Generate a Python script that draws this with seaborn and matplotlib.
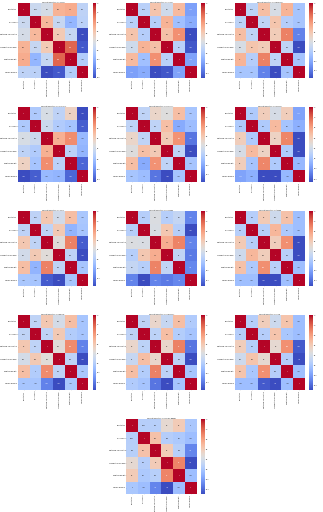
import numpy as np
import pandas as pd
import matplotlib
matplotlib.use("Agg")
import matplotlib.pyplot as plt
import seaborn as sns

variables = ["Precipitation", "Wind Speed", "Earth Skin Temperature",
             "Temperature Maximum", "Relative Humidity", "Surface Pressure"]

cities = ["ahvaz", "shiraz", "Rafsanjan", "chabahar", "bushehr", "isfahan",
          "yazd", "kerman", "tabas", "jahrom", "iranshahr", "ilam",
          "bandar abbas"]

# upper-triangle correlations, order:
# PW, PE, PT, PH, PS, WE, WT, WH, WS, ET, EH, ES, TH, TS, HS
corr_ahvaz = [0.083, 0.14, 0.49, 0.52, 0.02, 0.46, 0.065, -0.17, 0.01, 0.36, 0.06, -0.61, 0.78, -0.56, -0.03]
corr_shiraz = [0.068, 0.44, 0.17, 0.49, -0.19, 0.05, 0.52, -0.04, -0.14, 0.46, 0.66, -0.5, 0.07, -0.46, -0.18]
corr_rafsanjan = [0.049, 0.45, 0.18, 0.5, -0.05, 0.06, 0.41, 0.01, -0.05, 0.37, 0.7, -0.36, 0.06, -0.56, -0.06]
corr_chabahar = [0.053, 0.24, 0.12, 0.38, -0.45, 0.18, 0.06, 0.02, -0.39, 0.55, 0.68, -0.04, 0.11, -0.06, -0.36]
corr_bushehr = [0.057, 0.3, 0.22, 0.45, -0.05, 0.06, 0.44, -0.19, -0.1, 0.38, 0.64, -0.41, 0.06, -0.56, -0.06]
corr_isfahan = [0.048, 0.4, 0.23, 0.4, -0.15, 0.05, 0.5, 0.01, -0.09, 0.37, 0.7, -0.46, 0.05, -0.46, -0.05]
corr_yazd = [0.052, 0.4, 0.15, 0.45, -0.04, 0.06, 0.39, -0.15, -0.05, 0.24, 0.7, -0.5, 0.05, -0.56, -0.05]
corr_kerman = [0.046, 0.23, 0.05, 0.11, -0.31, 0.22, 0.42, 0.05, -0.51, 0.54, 0.7, -0.31, 0.1, -0.35, -0.3]
corr_tabas = [0.05, 0.4, 0.16, 0.45, -0.05, 0.05, 0.5, 0.01, -0.05, 0.38, 0.66, -0.51, 0.06, -0.51, -0.05]
corr_jahrom = [0.056, 0.4, 0.16, 0.45, -0.05, 0.06, 0.39, 0.0, -0.05, 0.24, 0.66, -0.36, 0.05, -0.56, -0.04]
corr_iranshahr = [0.058, 0.3, 0.1, 0.45, 0.0, 0.05, 0.45, 0.01, -0.05, 0.3, 0.7, -0.4, 0.05, -0.55, -0.05]
corr_ilam = [0.05, 0.38, 0.16, 0.44, -0.05, 0.05, 0.44, 0.0, -0.05, 0.3, 0.66, -0.45, 0.05, -0.5, -0.05]
corr_bandar = [0.052, 0.06, 0.3, 0.4, 0.0, 0.45, 0.05, 0.01, -0.05, 0.4, 0.06, -0.3, 0.7, -0.5, -0.05]

all_corr = [corr_ahvaz, corr_shiraz, corr_rafsanjan, corr_chabahar, corr_bushehr,
            corr_isfahan, corr_yazd, corr_kerman, corr_tabas, corr_jahrom,
            corr_iranshahr, corr_ilam, corr_bandar]


def to_matrix(vals):
    n = len(variables)
    m = np.eye(n)
    iu = np.triu_indices(n, 1)
    m[iu] = vals
    m = m + np.triu(m, 1).T
    return pd.DataFrame(m, index=variables, columns=variables)


fig, axes = plt.subplots(5, 3, figsize=(34.1, 53.9))
slots = [(r, c) for r in range(4) for c in range(3)] + [(4, 1)]
axes[4, 0].remove()
axes[4, 2].remove()
for city, vals, (r, c) in zip(cities, all_corr, slots):
    ax = axes[r, c]
    sns.heatmap(to_matrix(vals), annot=True, cmap="coolwarm", ax=ax)
    ax.set_title(f"Correlation Matrix for {city}")
plt.tight_layout(h_pad=8, w_pad=3)
fig.savefig("out.png", dpi=9.5)
